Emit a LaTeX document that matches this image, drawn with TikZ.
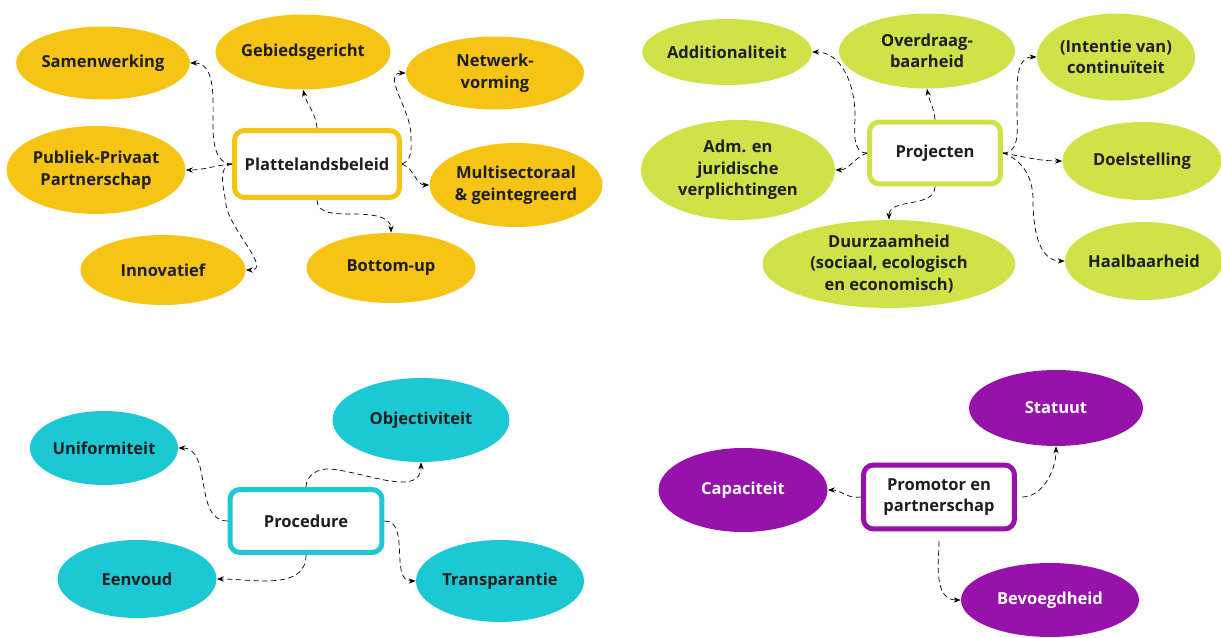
\documentclass[tikz,border=0pt]{standalone}
\usepackage{fontspec}
\setmainfont{Open Sans}
\usetikzlibrary{arrows.meta,shapes.geometric}
\definecolor{geel}{RGB}{246,196,20}
\definecolor{lime}{RGB}{208,226,72}
\definecolor{turkoois}{RGB}{28,200,212}
\definecolor{paars}{RGB}{150,18,170}
\definecolor{tekst}{RGB}{30,30,30}
\begin{document}
\begin{tikzpicture}[x=0.02cm,y=-0.02cm,
  font=\fontsize{9.4}{12.3}\selectfont\bfseries,
  maat/.style 2 args={minimum width=#1cm,minimum height=#2cm},
  blob/.style={ellipse,fill=#1,inner sep=0pt,align=center,text=tekst},
  kern/.style={rectangle,rounded corners=0.2cm,draw=#1,line width=0.1cm,fill=white,align=center,text=tekst},
  link/.style={densely dashed,line width=0.4pt,-{Stealth[length=4pt,width=3pt]}}]
\useasboundingbox (0,0) rectangle (1221,638);
% Plattelandsbeleid
\begin{scope}
\node[kern=geel,maat={3.3}{1.34}] (pb) at (317,164) {Plattelandsbeleid};
\node[blob=geel,maat={3.4}{1.46}] (sam) at (103,63) {Samenwerking};
\node[blob=geel,maat={3.5}{1.5}] (geb) at (303,52) {Gebiedsgericht};
\node[blob=geel,maat={3.56}{1.46}] (net) at (495,73) {Netwerk-\\vorming};
\node[blob=geel,maat={3.52}{1.76}] (pub) at (96,170) {Publiek-Privaat\\Partnerschap};
\node[blob=geel,maat={3.36}{1.68}] (mul) at (516,185) {Multisectoraal\\\& geintegreerd};
\node[blob=geel,maat={3.3}{1.4}] (inn) at (163,270) {Innovatief};
\node[blob=geel,maat={3.38}{1.4}] (bot) at (391,268) {Bottom-up};
\draw[link] (pb.west) to[out=180,in=-90] (213,125) to[out=90,in=0] (sam.east);
\draw[link] (pb.west) to[out=185,in=0] (pub.east);
\draw[link] (pb.west) to[out=190,in=95] (226,205) to[out=-80,in=0] (inn.east);
\draw[link] (pb.north) to[out=95,in=-75] (geb.south);
\draw[link] (pb.south) to[out=-90,in=180] (350,214) to[out=0,in=90] (bot.north);
\draw[link] (pb.east) to[out=20,in=-90] (411,135) to[out=90,in=180] (net.west);
\draw[link] (pb.east) to[out=-20,in=180] (mul.west);
\end{scope}
% Projecten
\begin{scope}
\node[kern=lime,maat={2.62}{1.24}] (proj) at (935,153) {Projecten};
\node[blob=lime,maat={3.28}{1.32}] (add) at (727,52) {Additionaliteit};
\node[blob=lime,maat={3.52}{1.5}] (ovd) at (927,51) {Overdraag-\\baarheid};
\node[blob=lime,maat={3.14}{1.74}] (int) at (1116,57) {(Intentie van)\\continuïteit};
\node[blob=lime,maat={3.88}{2.0}] (adm) at (738,170) {Adm. en\\juridische\\verplichtingen};
\node[blob=lime,maat={3.18}{1.56}] (doe) at (1142,161) {Doelstelling};
\node[blob=lime,maat={5.06}{1.76}] (duu) at (889,264) {Duurzaamheid\\(sociaal, ecologisch\\en economisch)};
\node[blob=lime,maat={3.1}{1.56}] (haa) at (1144,261) {Haalbaarheid};
\draw[link] (proj.west) to[out=180,in=-90] (855,115) to[out=90,in=0] (add.east);
\draw[link] (proj.west) to[out=200,in=0] (adm.east);
\draw[link] (proj.north) to[out=95,in=-80] (ovd.south);
\draw[link] (proj.south) to[out=-90,in=90] (duu.north);
\draw[link] (proj.east) to[out=0,in=-90] (1017,110) to[out=90,in=180] (int.west);
\draw[link] (proj.east) to[out=-10,in=180] (doe.west);
\draw[link] (proj.east) to[out=-20,in=90] (1033,200) to[out=-90,in=180] (haa.west);
\end{scope}
% Procedure
\begin{scope}
\node[kern=turkoois,maat={3.04}{1.26}] (proc) at (306,521) {Procedure};
\node[blob=turkoois,maat={2.96}{1.48}] (uni) at (104,448) {Uniformiteit};
\node[blob=turkoois,maat={3.54}{1.68}] (obj) at (421,420) {Objectiviteit};
\node[blob=turkoois,maat={3.18}{1.56}] (een) at (137,579) {Eenvoud};
\node[blob=turkoois,maat={3.36}{1.64}] (tra) at (500,581) {Transparantie};
\draw[link] (proc.west) to[out=180,in=0] (uni.east);
\draw[link] (proc.north) to[out=90,in=175] (330,469) to[out=-5,in=-90] (obj.south);
\draw[link] (proc.south) to[out=-90,in=0] (een.east);
\draw[link] (proc.east) to[out=0,in=180] (tra.west);
\end{scope}
% Promotor en partnerschap
\begin{scope}
\node[kern=paars,maat={3.02}{1.28}] (prom) at (939,497) {Promotor en\\partnerschap};
\node[blob=paars,text=white,maat={3.48}{1.52}] (sta) at (1056,408) {Statuut};
\node[blob=paars,text=white,maat={3.38}{1.68}] (cap) at (743,490) {Capaciteit};
\node[blob=paars,text=white,maat={3.56}{1.48}] (bev) at (1050,600) {Bevoegdheid};
\draw[link] (prom.west) to[out=190,in=0] (cap.east);
\draw[link,shorten <=3pt] (prom.east) to[out=0,in=-90] (sta.south);
\draw[link,shorten <=0.2cm] (prom.south) to[out=-90,in=180] (bev.west);
\end{scope}
\end{tikzpicture}
\end{document}
